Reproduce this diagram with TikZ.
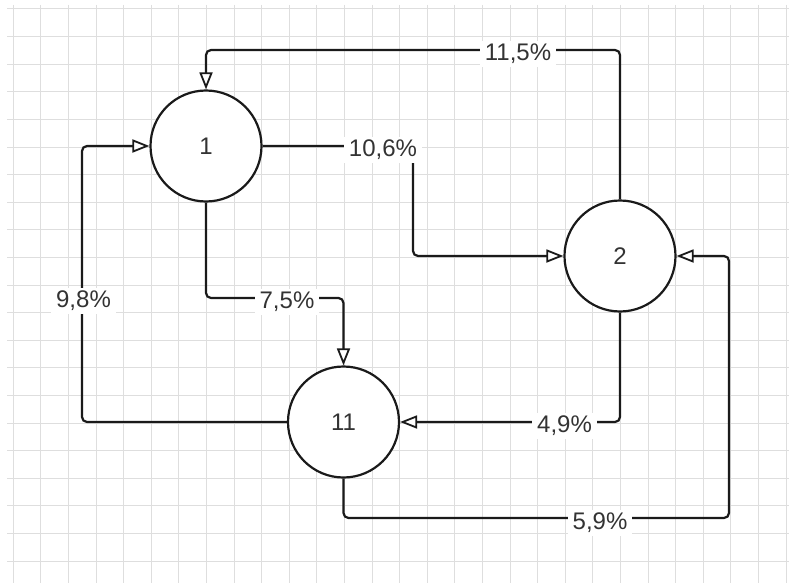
\documentclass[tikz,border=0pt]{standalone}
\usepackage{fontspec}
\setmainfont{Liberation Sans}
\usetikzlibrary{arrows.meta}
\definecolor{gridgray}{HTML}{DEDEDE}
\definecolor{ink}{HTML}{1A1A1A}
\definecolor{txt}{HTML}{333333}

\begin{document}
\begin{tikzpicture}[x=1pt,y=-1pt,
  state/.style={circle, draw=ink, line width=2.2pt, minimum size=111pt, inner sep=0pt,
    fill=white, text=txt, font=\fontsize{24}{28}\selectfont},
  flow/.style={draw=ink, line width=2.2pt, rounded corners=5pt,
    -{Triangle[length=17pt,width=13pt,fill=white,line width=1.8pt]}},
  pct/.style={fill=white, text=txt, inner xsep=5pt, inner ysep=3pt,
    font=\fontsize{24}{28}\selectfont, yshift=-4pt}
]
% page and background
\useasboundingbox (0,0) rectangle (789,583);
\fill[white] (0,0) rectangle (789,583);

% background grid
\begin{scope}
  \clip (7,5) rectangle (789,583);
  \foreach \i in {0,...,28}
    \draw[gridgray, line width=1pt] ({13.3+27.6*\i},5) -- ({13.3+27.6*\i},583);
  \foreach \j in {0,...,20}
    \draw[gridgray, line width=1pt] (7,{9+27.6*\j}) -- (789,{9+27.6*\j});
\end{scope}

% states
\node[state] (n1)  at (206,146)   {1};
\node[state] (n2)  at (620,256)   {2};
\node[state] (n11) at (343.5,422) {11};

% bend points of the connectors
\coordinate (a1) at (620,50);   \coordinate (a2) at (206,50);
\coordinate (b1) at (413,146);  \coordinate (b2) at (413,256);
\coordinate (c1) at (206,298);  \coordinate (c2) at (343.5,298);
\coordinate (d1) at (82,422);   \coordinate (d2) at (82,146);
\coordinate (e1) at (620,422);
\coordinate (f1) at (343.5,518); \coordinate (f2) at (729,518); \coordinate (f3) at (729,256);

% transitions
\draw[flow] (n2.north) -- (a1) -- (a2) -- (n1.north);
\draw[flow] (n1.east) -- (b1) -- (b2) -- (n2.west);
\draw[flow] (n1.south) -- (c1) -- (c2) -- (n11.north);
\draw[flow] (n11.west) -- (d1) -- (d2) -- (n1.west);
\draw[flow] (n2.south) -- (e1) -- (n11.east);
\draw[flow] (n11.south) -- (f1) -- (f2) -- (f3) -- (n2.east);

% transition probabilities
\node[pct] (l1) at (518,50)    {11,5\%};
\node[pct] (l2) at (383,146)   {10,6\%};
\node[pct] (l3) at (287,298)   {7,5\%};
\node[pct] (l4) at (83.5,297)  {9,8\%};
\node[pct] (l5) at (564.5,422) {4,9\%};
\node[pct] (l6) at (600,519)   {5,9\%};
\end{tikzpicture}
\end{document}
